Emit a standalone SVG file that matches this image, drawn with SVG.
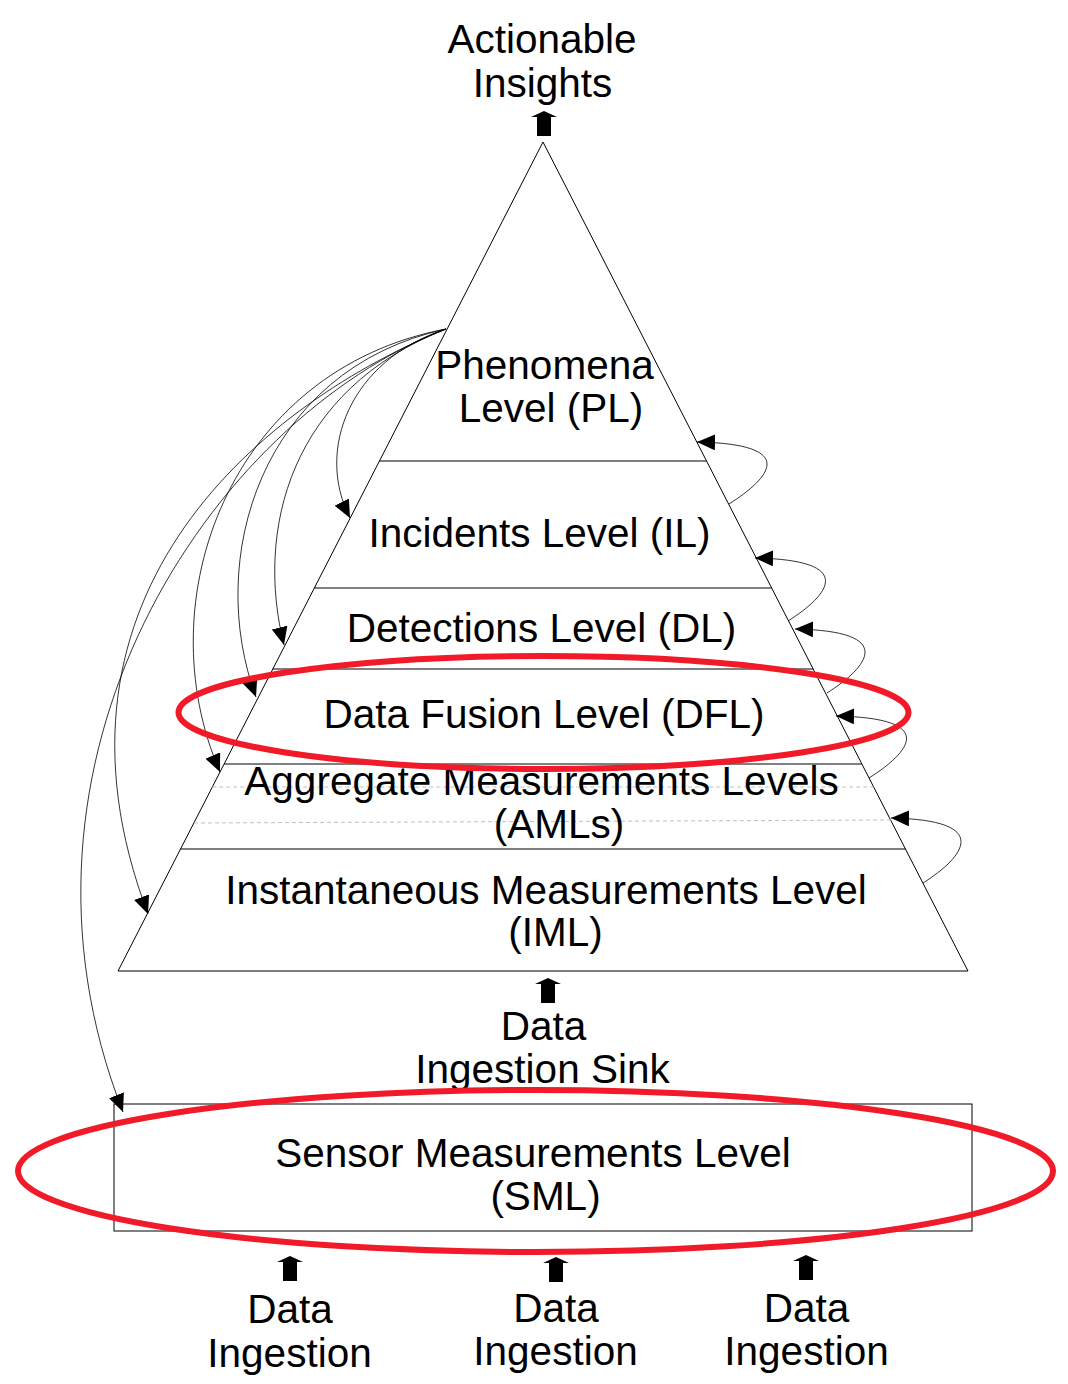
<svg xmlns="http://www.w3.org/2000/svg" xmlns:xlink="http://www.w3.org/1999/xlink" width="1068" height="1384" viewBox="0 0 1068 1384">
<style>
text{font-family:"Liberation Sans",Arial,sans-serif;font-size:40.5px;fill:#000;text-anchor:middle}
.edge{fill:none;stroke:#000;stroke-width:1}
.lvl{fill:none;stroke:#000;stroke-width:1}
.dash{fill:none;stroke:#c0c0c0;stroke-width:1;stroke-dasharray:4,3}
.conn{fill:none;stroke:#000;stroke-width:0.8;marker-end:url(#ah)}
.red{fill:none;stroke:#f01a28;stroke-width:6}
.blk{fill:#000}
</style>
<defs>
<marker id="ah" viewBox="0 0 18 16" refX="18" refY="8" markerWidth="18" markerHeight="16" markerUnits="userSpaceOnUse" orient="auto">
<path d="M0,0 L18,8 L0,16 Z" fill="#000"/>
</marker>
<path id="blkarrow" class="blk" d="M0,0 L13,6 L7,6 L7,25 L-7,25 L-7,6 L-13,6 Z"/>
</defs>
<rect width="1068" height="1384" fill="#fff"/>

<g id="pyramid">
<polygon class="edge" points="543,142 968,971 118,971"/>
<line class="lvl" x1="379.5" y1="461" x2="706.5" y2="461"/>
<line class="lvl" x1="314.3" y1="588" x2="771.7" y2="588"/>
<line class="lvl" x1="272.8" y1="669" x2="813.2" y2="669"/>
<line class="lvl" x1="224.1" y1="764" x2="861.9" y2="764"/>
<line class="dash" x1="212.3" y1="787" x2="873.7" y2="787"/>
<line class="dash" x1="194" y1="823" x2="891" y2="820"/>
<line class="lvl" x1="180.5" y1="849" x2="905.5" y2="849"/>
</g>

<g id="node-actionable">
<use xlink:href="#blkarrow" x="544" y="111"/>
<text x="542" y="53">Actionable</text>
<text x="542.5" y="97">Insights</text>
</g>
<g id="node-pl">
<text x="544.5" y="379">Phenomena</text>
<text x="551" y="422">Level (PL)</text>
</g>
<g id="node-il"><text x="539.5" y="547">Incidents Level (IL)</text></g>
<g id="node-dl"><text x="541.5" y="642">Detections Level (DL)</text></g>
<g id="node-dfl"><text x="544" y="728">Data Fusion Level (DFL)</text></g>
<g id="node-aml">
<text x="541.5" y="795">Aggregate Measurements Levels</text>
<text x="559" y="838">(AMLs)</text>
</g>
<g id="node-iml">
<text x="546" y="904">Instantaneous Measurements Level</text>
<text x="555.5" y="946">(IML)</text>
</g>
<g id="node-sink">
<use xlink:href="#blkarrow" x="548" y="978"/>
<text x="543.5" y="1040">Data</text>
<text x="542.5" y="1083">Ingestion Sink</text>
</g>
<g id="node-sml">
<rect x="114" y="1104" width="858" height="127" fill="none" stroke="#000" stroke-width="1"/>
<text x="533" y="1167">Sensor Measurements Level</text>
<text x="545.5" y="1210">(SML)</text>
</g>
<g id="node-ingest1">
<use xlink:href="#blkarrow" x="290" y="1256"/>
<text x="290" y="1323">Data</text>
<text x="289.5" y="1367">Ingestion</text>
</g>
<g id="node-ingest2">
<use xlink:href="#blkarrow" x="556" y="1257"/>
<text x="556" y="1322">Data</text>
<text x="555.5" y="1365">Ingestion</text>
</g>
<g id="node-ingest3">
<use xlink:href="#blkarrow" x="806" y="1255"/>
<text x="806.5" y="1322">Data</text>
<text x="806.5" y="1365">Ingestion</text>
</g>

<g id="connectors">
<path class="conn" d="M446,329 C350,360 315,450 350,518"/>
<path class="conn" d="M446,329 C290,390 255,530 284,645"/>
<path class="conn" d="M446,329 C260,370 205,560 256,697"/>
<path class="conn" d="M446,329 C230,370 145,600 220,772"/>
<path class="conn" d="M446,329 C270,400 25,590 148,914"/>
<path class="conn" d="M446,329 C210,420 -15,760 123,1112"/>
<path class="conn" d="M729,504 C770,478 800,444 697,442"/>
<path class="conn" d="M788,621 C829,595 858,560 755,558"/>
<path class="conn" d="M827,693 C868,667 898,631 795,629"/>
<path class="conn" d="M869,778 C910,752 939,718 836,716"/>
<path class="conn" d="M923,883 C964,857 994,820 891,818"/>
</g>

<g id="highlights">
<ellipse class="red" cx="543.5" cy="712.5" rx="365" ry="56.5"/>
<ellipse class="red" cx="535.5" cy="1171" rx="517.5" ry="81"/>
</g>
</svg>
